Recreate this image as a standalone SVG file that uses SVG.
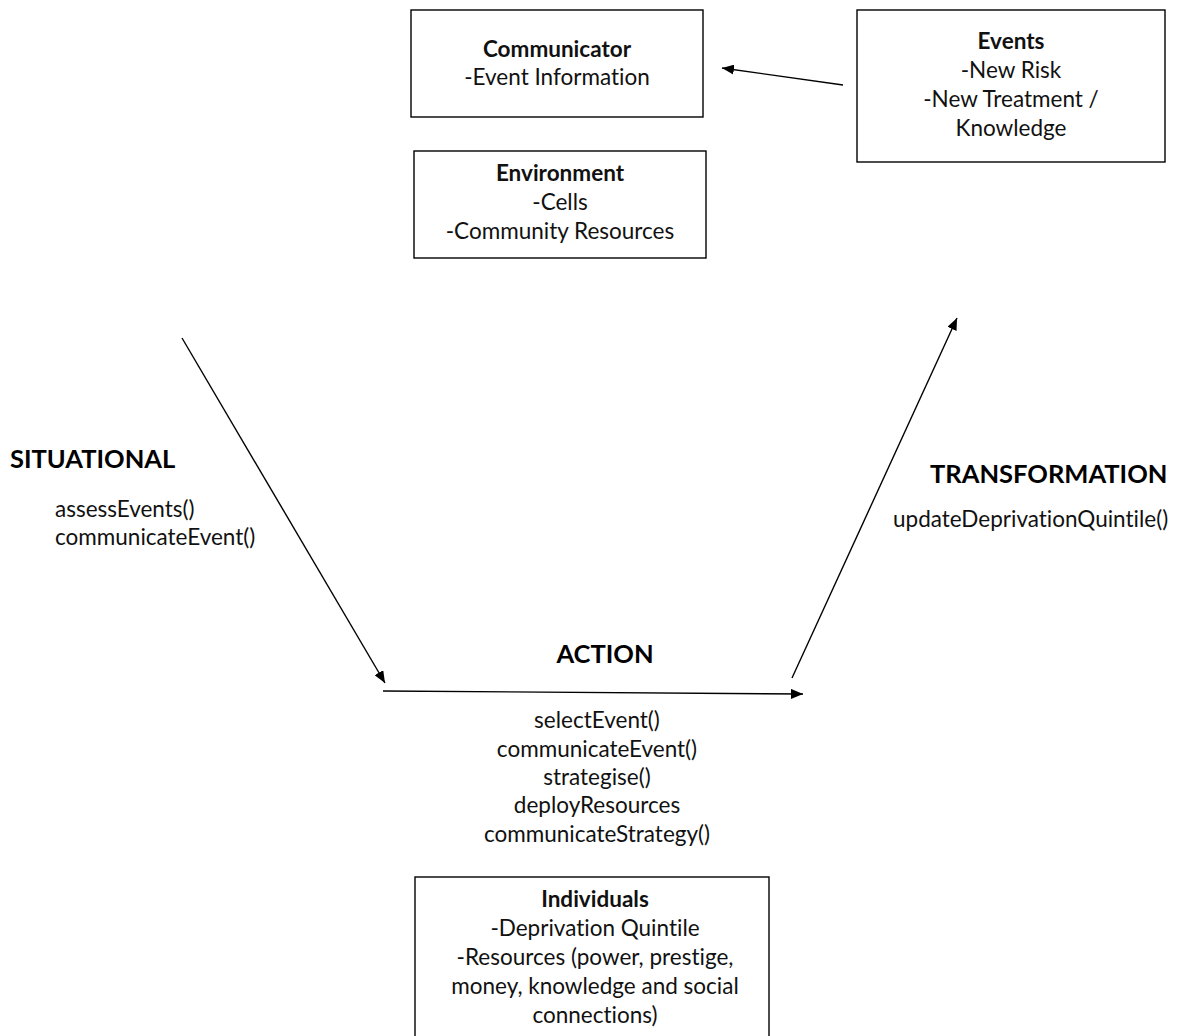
<svg xmlns="http://www.w3.org/2000/svg" width="1179" height="1036" viewBox="0 0 1179 1036">
<defs>
<marker id="ah" viewBox="0 0 12 10" refX="12" refY="5" markerWidth="12" markerHeight="10" markerUnits="userSpaceOnUse" orient="auto">
<path d="M0,0 L12,5 L0,10 z" fill="#000"/>
</marker>
<style>
text{font-variant-ligatures:none}
.box{fill:#fff;stroke:#000;stroke-width:1.4}
.t{font-family:Lato,"Liberation Sans",sans-serif;font-size:22.5px;fill:#111;text-anchor:middle}
.b{font-weight:bold}
.h{font-family:Lato,"Liberation Sans",sans-serif;font-size:25.5px;font-weight:bold;fill:#000}
.m{font-family:Lato,"Liberation Sans",sans-serif;font-size:22.5px;fill:#111}
.c{stroke:#000;stroke-width:1.4;fill:none;marker-end:url(#ah)}
</style>
</defs>
<rect width="1179" height="1036" fill="#fff"/>
<g id="communicator">
<rect class="box" x="411" y="10" width="292" height="107"/>
<text class="t b" x="557" y="57">Communicator</text>
<text class="t" x="557" y="85">-Event Information</text>
</g>
<g id="environment">
<rect class="box" x="414" y="151" width="292" height="107"/>
<text class="t b" x="560" y="181">Environment</text>
<text class="t" x="560" y="210">-Cells</text>
<text class="t" x="560" y="239">-Community Resources</text>
</g>
<g id="events">
<rect class="box" x="857" y="10" width="308" height="152"/>
<text class="t b" x="1011" y="49">Events</text>
<text class="t" x="1011" y="78">-New Risk</text>
<text class="t" x="1011" y="107">-New Treatment /</text>
<text class="t" x="1011" y="136">Knowledge</text>
</g>
<g id="individuals">
<rect class="box" x="415" y="877" width="354" height="170"/>
<text class="t b" x="595" y="907">Individuals</text>
<text class="t" x="595" y="936">-Deprivation Quintile</text>
<text class="t" x="595" y="965">-Resources (power, prestige,</text>
<text class="t" x="595" y="994">money, knowledge and social</text>
<text class="t" x="595" y="1023">connections)</text>
</g>
<g id="situational">
<text class="h" x="10" y="468">SITUATIONAL</text>
<text class="m" x="55" y="517">assessEvents()</text>
<text class="m" x="55" y="545">communicateEvent()</text>
</g>
<g id="action">
<text class="h" x="605" y="663" text-anchor="middle">ACTION</text>
<text class="t" x="597" y="728">selectEvent()</text>
<text class="t" x="597" y="757">communicateEvent()</text>
<text class="t" x="597" y="785">strategise()</text>
<text class="t" x="597" y="813">deployResources</text>
<text class="t" x="597" y="842">communicateStrategy()</text>
</g>
<g id="transformation">
<text class="h" x="930" y="483">TRANSFORMATION</text>
<text class="m" x="893" y="527">updateDeprivationQuintile()</text>
</g>
<g id="connectors">
<line class="c" x1="843" y1="85" x2="722" y2="68"/>
<line class="c" x1="182" y1="338" x2="385" y2="683"/>
<line class="c" x1="383" y1="691" x2="803" y2="694"/>
<line class="c" x1="792" y1="678" x2="957" y2="318"/>
</g>
</svg>
